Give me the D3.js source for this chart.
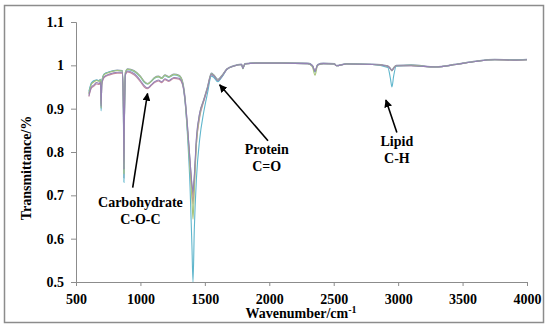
<!DOCTYPE html>
<html>
<head>
<meta charset="utf-8">
<script src="https://cdn.jsdelivr.net/npm/d3@7"></script>
<style>
  body { margin: 0; background: #fff; }
</style>
</head>
<body>
<div id="my_dataviz"></div>
<script>
// wavenumber grid (cm-1)
const wavenumber = [600, 620, 640, 660, 680, 690, 695, 700, 720, 760,
  820, 860, 868, 872, 876, 884, 900, 950, 1000, 1030,
  1055, 1080, 1110, 1140, 1165, 1190, 1220, 1260, 1300, 1325,
  1345, 1365, 1385, 1400, 1408, 1418, 1435, 1460, 1490, 1520,
  1550, 1570, 1600, 1630, 1670, 1720, 1785, 1795, 1810, 1900,
  2100, 2300, 2335, 2355, 2375, 2420, 2505, 2520, 2600, 2800,
  2920, 2940, 2952, 2965, 2985, 3100, 3290, 3450, 3600, 3750,
  3900, 4000];

const sampleA = [.935, .958, .963, .966, .964, .968, .900, .962, .980, .985,
  .989, .988, .900, .740, .880, .985, .992, .988, .975, .963,
  .958, .963, .972, .975, .971, .978, .974, .980, .977, .965,
  .930, .860, .780, .720, .700, .740, .830, .890, .920, .950,
  .982, .978, .968, .976, .992, .999, 1.003, .993, 1.004, 1.006,
  1.006, 1.005, 1.000, .986, 1.002, 1.005, 1.004, 1.000, 1.004, 1.003,
  .999, .993, .988, .995, 1.000, 1.001, .997, 1.003, 1.010, 1.014,
  1.013, 1.014];

const sampleB = [.928, .948, .952, .957, .956, .960, .910, .955, .972, .978,
  .982, .982, .900, .760, .880, .978, .985, .978, .962, .950,
  .946, .952, .960, .964, .960, .967, .963, .970, .968, .957,
  .920, .850, .770, .710, .680, .730, .820, .880, .915, .945,
  .978, .975, .964, .973, .990, .998, 1.002, .993, 1.003, 1.005,
  1.005, 1.004, .999, .987, 1.001, 1.004, 1.003, .999, 1.003, 1.002,
  .998, .992, .989, .993, .999, .999, .996, 1.002, 1.009, 1.013,
  1.012, 1.013];

const sampleC = [.940, .960, .965, .966, .965, .967, .895, .963, .980, .985,
  .988, .987, .880, .730, .870, .984, .990, .986, .973, .961,
  .957, .962, .970, .973, .970, .976, .972, .978, .975, .962,
  .920, .840, .720, .580, .500, .620, .740, .830, .890, .935,
  .975, .972, .962, .972, .990, .998, 1.002, .992, 1.003, 1.005,
  1.005, 1.004, .998, .984, 1.001, 1.004, 1.003, .999, 1.003, 1.002,
  .995, .970, .950, .975, .998, 1.000, .996, 1.002, 1.009, 1.013,
  1.013, 1.013];

const sampleD = [.934, .957, .962, .965, .963, .967, .902, .961, .979, .984,
  .988, .987, .900, .750, .880, .984, .991, .987, .974, .962,
  .957, .962, .971, .974, .970, .977, .973, .979, .976, .963,
  .925, .850, .760, .690, .645, .710, .820, .885, .918, .948,
  .980, .977, .966, .975, .991, .998, 1.002, .992, 1.003, 1.005,
  1.005, 1.004, .996, .977, 1.000, 1.004, 1.003, .999, 1.003, 1.002,
  .998, .992, .987, .994, .999, 1.000, .996, 1.002, 1.009, 1.013,
  1.012, 1.013];

const sampleE = [.930, .950, .955, .960, .958, .962, .905, .957, .974, .980,
  .984, .984, .900, .760, .880, .980, .987, .981, .965, .953,
  .948, .954, .962, .966, .962, .969, .965, .972, .970, .959,
  .925, .860, .780, .725, .710, .745, .835, .890, .918, .947,
  .979, .976, .965, .974, .991, .998, 1.002, .993, 1.003, 1.005,
  1.005, 1.004, .999, .986, 1.001, 1.004, 1.003, .999, 1.003, 1.002,
  .998, .992, .988, .993, .999, .999, .996, 1.002, 1.009, 1.013,
  1.012, 1.013];

const seriesNames = [`A`, `B`, `C`, `D`, `E`];
const seriesValues = [sampleA, sampleB, sampleC, sampleD, sampleE];
const seriesColors = [`#8193ad`, `#c48a9f`, `#5fb6cc`, `#a9c47a`, `#9582b5`];

const xTicks = [500, 1000, 1500, 2000, 2500, 3000, 3500, 4000];
const yTicks = [0.5, 0.6, 0.7, 0.8, 0.9, 1, 1.1];

// annotations: label lines, label position, arrow tail / head in data units
const notes = [
  {lines: [`Carbohydrate`, `C-O-C`], at: [1000, 0.674], tail: [940, 0.718], head: [1055, 0.935]},
  {lines: [`Protein`, `C=O`], at: [1980, 0.795], tail: [1990, 0.826], head: [1615, 0.955]},
  {lines: [`Lipid`, `C-H`], at: [2990, 0.815], tail: [2990, 0.845], head: [2905, 0.92]}
];

const width = 556;
const height = 329;
const fontFamily = `"Liberation Serif", "Times New Roman", serif`;

const xScale = d3.scaleLinear().domain([500, 4000]).range([76, 527]);
const yScale = d3.scaleLinear().domain([0.5, 1.1]).range([282, 22]);

const svg = d3.select(`#my_dataviz`)
  .append(`svg`)
    .attr(`width`, width)
    .attr(`height`, height);

// outer frame
svg.append(`rect`)
  .attr(`x`, 4.5)
  .attr(`y`, 5.5)
  .attr(`width`, 539)
  .attr(`height`, 317)
  .attr(`fill`, `white`)
  .attr(`stroke`, `#8c8c8c`)
  .attr(`stroke-width`, 1.5);

const xAxis = svg.append(`g`)
  .attr(`transform`, `translate(0, ${yScale(0.5)})`)
  .call(d3.axisBottom(xScale).tickValues(xTicks).tickFormat(d3.format(`d`)).tickSizeOuter(0).tickSize(4));

const yAxis = svg.append(`g`)
  .attr(`transform`, `translate(${xScale(500)}, 0)`)
  .call(d3.axisLeft(yScale).tickValues(yTicks).tickFormat(d => d).tickSizeOuter(0).tickSize(5).tickPadding(7));

[xAxis, yAxis].forEach(a => {
  a.select(`.domain`).attr(`stroke`, `#8c8c8c`);
  a.selectAll(`.tick line`).attr(`stroke`, `#8c8c8c`);
  a.selectAll(`.tick text`)
    .style(`font-family`, fontFamily)
    .style(`font-size`, `14px`)
    .style(`font-weight`, `bold`)
    .attr(`fill`, `black`);
});
xAxis.selectAll(`.tick text`).attr(`dy`, `1.05em`);

// axis titles
const xTitle = svg.append(`text`)
  .attr(`x`, 301)
  .attr(`y`, 318)
  .attr(`text-anchor`, `middle`)
  .style(`font-family`, fontFamily)
  .style(`font-size`, `14px`)
  .style(`font-weight`, `bold`)
  .text(`Wavenumber/cm`);
xTitle.append(`tspan`)
  .attr(`dy`, -5)
  .style(`font-size`, `10px`)
  .text(`-1`);

svg.append(`text`)
  .attr(`transform`, `translate(31, 168) rotate(-90)`)
  .attr(`text-anchor`, `middle`)
  .style(`font-family`, fontFamily)
  .style(`font-size`, `14px`)
  .style(`font-weight`, `bold`)
  .text(`Transmittance/%`);

// spectra
const line = d3.line()
  .x(d => xScale(d[0]))
  .y(d => yScale(d[1]))
  .curve(d3.curveMonotoneX);

const plot = svg.append(`g`);
seriesValues.forEach((vals, i) => {
  plot.append(`path`)
    .datum(wavenumber.map((w, j) => [w, vals[j]]))
    .attr(`class`, `spectrum-${seriesNames[i]}`)
    .attr(`fill`, `none`)
    .attr(`stroke`, seriesColors[i])
    .attr(`stroke-width`, 1.1)
    .attr(`d`, line);
});

// arrow marker
svg.append(`defs`).append(`marker`)
  .attr(`id`, `arrow`)
  .attr(`viewBox`, `0 0 10 10`)
  .attr(`refX`, 9)
  .attr(`refY`, 5)
  .attr(`markerWidth`, 5)
  .attr(`markerHeight`, 5)
  .attr(`orient`, `auto`)
  .append(`path`)
    .attr(`d`, `M0,0 L10,5 L0,10 z`)
    .attr(`fill`, `black`);

notes.forEach(n => {
  svg.append(`line`)
    .attr(`x1`, xScale(n.tail[0]))
    .attr(`y1`, yScale(n.tail[1]))
    .attr(`x2`, xScale(n.head[0]))
    .attr(`y2`, yScale(n.head[1]))
    .attr(`stroke`, `black`)
    .attr(`stroke-width`, 1.6)
    .attr(`marker-end`, `url(#arrow)`);

  const t = svg.append(`text`)
    .attr(`text-anchor`, `middle`)
    .style(`font-family`, fontFamily)
    .style(`font-size`, `14px`)
    .style(`font-weight`, `bold`);
  n.lines.forEach((s, k) => {
    t.append(`tspan`)
      .attr(`x`, xScale(n.at[0]))
      .attr(`y`, yScale(n.at[1]) + k * 17)
      .text(s);
  });
});
</script>
</body>
</html>
